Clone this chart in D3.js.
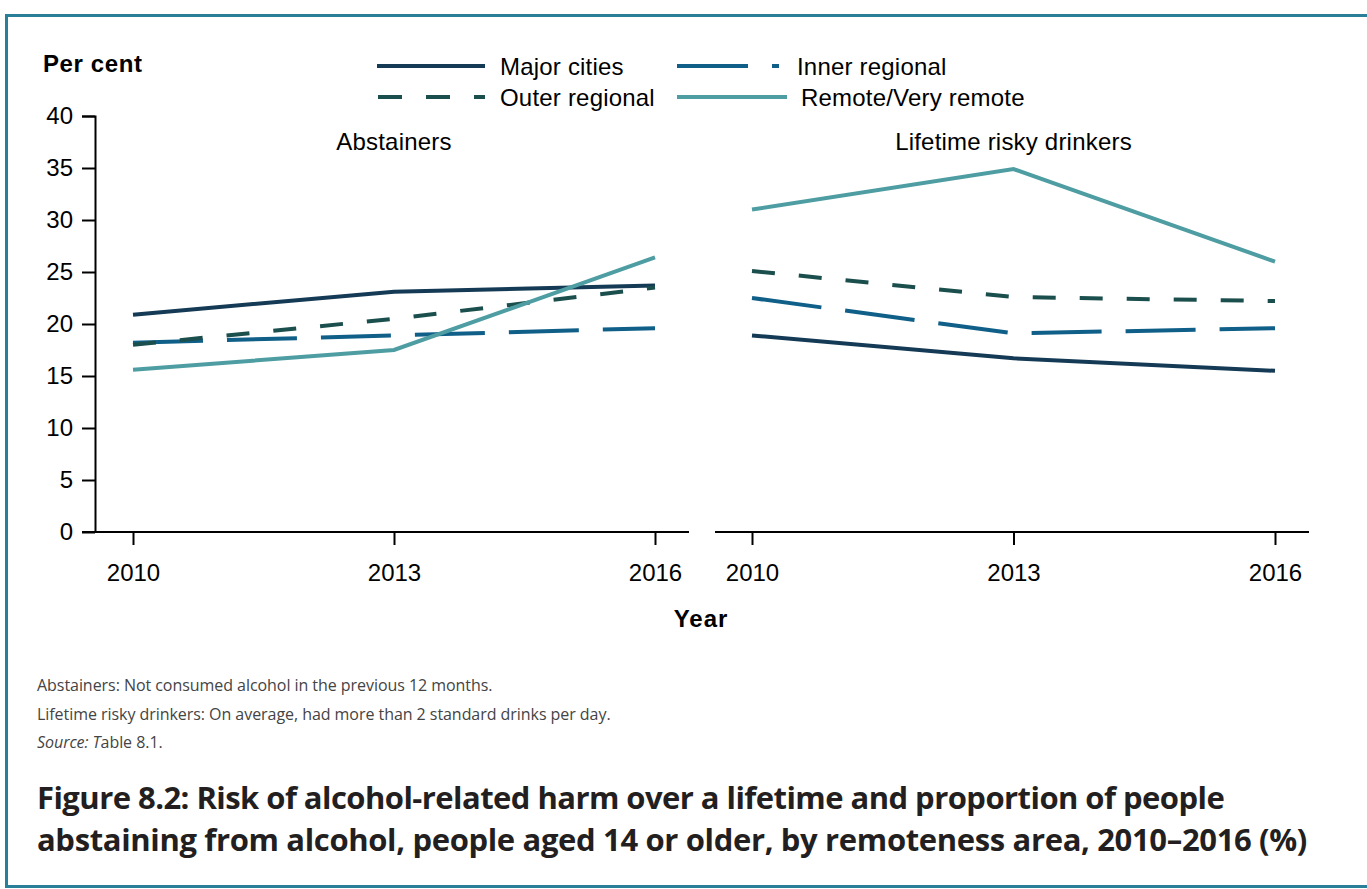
<!DOCTYPE html>
<html><head><meta charset="utf-8">
<script src="https://cdn.jsdelivr.net/npm/d3@7/dist/d3.min.js"></script>
<style>body{margin:0;background:#fff}svg{display:block}</style>
</head><body>
<script>
const years = ["2010","2013","2016"];
const yTicks = [0,5,10,15,20,25,30,35,40];
const panels = ["Abstainers","Lifetime risky drinkers"];
const seriesNames = ["Major cities","Inner regional","Outer regional","Remote/Very remote"];
const abstainers = {
  "Major cities": [20.9, 23.1, 23.7],
  "Inner regional": [18.2, 18.9, 19.6],
  "Outer regional": [18.0, 20.5, 23.5],
  "Remote/Very remote": [15.6, 17.5, 26.4]
};
const riskyDrinkers = {
  "Major cities": [18.9, 16.7, 15.5],
  "Inner regional": [22.5, 19.1, 19.6],
  "Outer regional": [25.1, 22.6, 22.2],
  "Remote/Very remote": [31.0, 34.9, 26.0]
};
const colors = {"Major cities":"#143a55","Inner regional":"#0f5f88","Outer regional":"#1b4f4d","Remote/Very remote":"#4e9da2"};
const dashes = {"Major cities":null,"Inner regional":"70,24","Outer regional":"23,24","Remote/Very remote":null};
const footnotes = ["Abstainers: Not consumed alcohol in the previous 12 months.","Lifetime risky drinkers: On average, had more than 2 standard drinks per day."];
const titleLines = ["Figure 8.2: Risk of alcohol-related harm over a lifetime and proportion of people","abstaining from alcohol, people aged 14 or older, by remoteness area, 2010\u20132016 (%)"];

const W=1367,H=889;
const svg=d3.select("body").append("svg").attr("width",W).attr("height",H);
svg.append("rect").attr("x",6.5).attr("y",15.5).attr("width",1370).attr("height",871)
  .attr("fill","none").attr("stroke","#2a7f98").attr("stroke-width",3);

const font="Liberation Sans, Arial, sans-serif";
const fs=24;
const y=d3.scaleLinear().domain([0,40]).range([532,116]);
const panelDefs=[
  {name:panels[0],data:abstainers,range:[133,655],line:[82,689]},
  {name:panels[1],data:riskyDrinkers,range:[752,1275],line:[715,1309]}
];
const yAxis=svg.append("g").attr("transform","translate(95,0)")
  .call(d3.axisLeft(y).tickValues(yTicks).tickSize(13).tickPadding(9));
yAxis.select(".domain").attr("d","M-13,116.5H0.5V532");
yAxis.selectAll("line,path").attr("stroke","#000").attr("stroke-width",2);
yAxis.selectAll("text").attr("font-family",font).attr("font-size",fs).attr("fill","#000");

const lineGen=d3.line();
panelDefs.forEach(p=>{
  const x=d3.scalePoint().domain(years).range(p.range);
  const g=svg.append("g").attr("transform","translate(0,532)")
    .call(d3.axisBottom(x).tickSize(13).tickPadding(19));
  g.select(".domain").attr("d",`M${p.line[0]},0H${p.line[1]}`);
  g.selectAll("line,path").attr("stroke","#000").attr("stroke-width",2);
  g.selectAll("text").attr("font-family",font).attr("font-size",fs).attr("fill","#000");
  svg.append("text").attr("x",(p.range[0]+p.range[1])/2).attr("y",150).attr("text-anchor","middle")
    .attr("font-family",font).attr("font-size",fs).attr("letter-spacing",0.2).attr("fill","#000").text(p.name);
  seriesNames.forEach(s=>{
    svg.append("path").attr("d",lineGen(years.map((yr,i)=>[x(yr),y(p.data[s][i])])))
      .attr("fill","none").attr("stroke",colors[s]).attr("stroke-width",4)
      .attr("stroke-dasharray",dashes[s]);
  });
});

svg.append("text").attr("x",43).attr("y",72).attr("font-family",font).attr("font-weight","bold")
  .attr("font-size",fs).attr("letter-spacing",0.6).text("Per cent");
svg.append("text").attr("x",701).attr("y",627).attr("text-anchor","middle").attr("font-family",font)
  .attr("font-weight","bold").attr("font-size",fs).attr("letter-spacing",1).text("Year");

// legend
const leg=[
  {s:"Major cities",x1:377,x2:485,ty:66,tx:500,dash:null},
  {s:"Inner regional",x1:677,x2:779,ty:66,tx:797,dash:"71,24"},
  {s:"Outer regional",x1:378,x2:485,ty:97,tx:500,dash:"24,24"},
  {s:"Remote/Very remote",x1:677,x2:787,ty:97,tx:801,dash:null}
];
leg.forEach(l=>{
  svg.append("line").attr("x1",l.x1).attr("x2",l.x2).attr("y1",l.ty).attr("y2",l.ty)
    .attr("stroke",colors[l.s]).attr("stroke-width",4).attr("stroke-dasharray",l.dash);
  svg.append("text").attr("x",l.tx).attr("y",l.ty+9).attr("font-family",font).attr("font-size",fs)
    .attr("letter-spacing",0.2).attr("fill","#000").text(l.s);
});

const nfont="Open Sans, Noto Sans, sans-serif";
footnotes.forEach((f,i)=>{
  svg.append("text").attr("x",37).attr("y",691+i*29).attr("font-family",nfont).attr("font-size",16)
    .attr("letter-spacing",-0.05).attr("fill","#444").text(f);
});
const src=svg.append("text").attr("x",37).attr("y",748).attr("font-family",nfont).attr("font-size",16)
  .attr("letter-spacing",-0.05).attr("fill","#444");
src.append("tspan").attr("font-style","italic").text("Source: T");
src.append("tspan").text("able 8.1.");

titleLines.forEach((t,i)=>{
  svg.append("text").attr("x",37).attr("y",809+i*42).attr("font-family",nfont).attr("font-weight","bold")
    .attr("font-size",31).attr("letter-spacing",i===0?-0.55:-0.35).attr("fill","#231f20").text(t);
});
</script>
</body></html>
